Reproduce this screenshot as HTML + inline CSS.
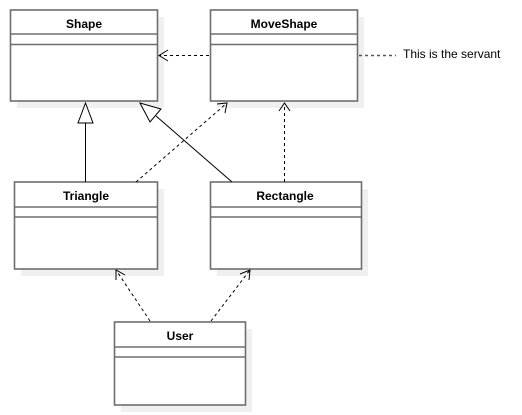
<!DOCTYPE html>
<html><head><style>
html,body{margin:0;padding:0;background:#fff;width:522px;height:415px;overflow:hidden}
svg{display:block}
text{font-family:"Liberation Sans",sans-serif;font-size:12px;fill:#000}
.t{font-weight:bold;text-anchor:middle}
</style></head><body>
<svg width="522" height="415" viewBox="0 0 522 415">
<g fill="#f0f0f0">
<rect x="17" y="17" width="147" height="91"/>
<rect x="217" y="17" width="147" height="91"/>
<rect x="21" y="189" width="143" height="87"/>
<rect x="217" y="189" width="151" height="87"/>
<rect x="121" y="329" width="131" height="83"/>
</g>
<g fill="#fff" stroke="#6e6e6e" stroke-width="1.6">
<rect x="10.5" y="10" width="147" height="91"/>
<line x1="10.5" y1="34" x2="157.5" y2="34"/><line x1="10.5" y1="44.5" x2="157.5" y2="44.5"/>
<rect x="210.5" y="10" width="147" height="91"/>
<line x1="210.5" y1="34" x2="357.5" y2="34"/><line x1="210.5" y1="44.5" x2="357.5" y2="44.5"/>
<rect x="14.5" y="182" width="143" height="87"/>
<line x1="14.5" y1="207" x2="157.5" y2="207"/><line x1="14.5" y1="217" x2="157.5" y2="217"/>
<rect x="210.5" y="182" width="151" height="87"/>
<line x1="210.5" y1="207" x2="361.5" y2="207"/><line x1="210.5" y1="217" x2="361.5" y2="217"/>
<rect x="114.5" y="322" width="131" height="83"/>
<line x1="114.5" y1="347" x2="245.5" y2="347"/><line x1="114.5" y1="357" x2="245.5" y2="357"/>
</g>
<text class="t" x="84" y="28">Shape</text>
<text class="t" x="284" y="28">MoveShape</text>
<text class="t" x="86" y="200">Triangle</text>
<text class="t" x="285" y="200">Rectangle</text>
<text class="t" x="180" y="340">User</text>
<text x="403" y="58">This is the servant</text>
<g fill="none" stroke="#000" stroke-width="1">
<line x1="209" y1="55.5" x2="159" y2="55.5" stroke-dasharray="3,3"/>
<polyline points="168,50 159,55.5 168,61"/>
<line x1="359" y1="55.5" x2="396" y2="55.5" stroke="#555" stroke-width="1.5" stroke-dasharray="3,3"/>
<line x1="85.5" y1="182" x2="85.5" y2="123"/>
<polygon points="85.5,103 78,123 93,123" fill="#fff"/>
<line x1="232" y1="182" x2="156" y2="116"/>
<polygon points="140,103 161,109 150,122" fill="#fff"/>
<line x1="136" y1="182" x2="227" y2="103" stroke-dasharray="3,3"/>
<polyline points="217,104 227,103 225,113"/>
<line x1="284.5" y1="182" x2="284.5" y2="103" stroke-dasharray="3,3"/>
<polyline points="279,111 284.5,103 290,111"/>
<line x1="150" y1="321" x2="116" y2="270" stroke-dasharray="3,3"/>
<polyline points="116,280 116,270 125,275"/>
<line x1="211" y1="321" x2="250" y2="270" stroke-dasharray="3,3"/>
<polyline points="240,274 250,270 249,280"/>
</g>
</svg>
</body></html>
